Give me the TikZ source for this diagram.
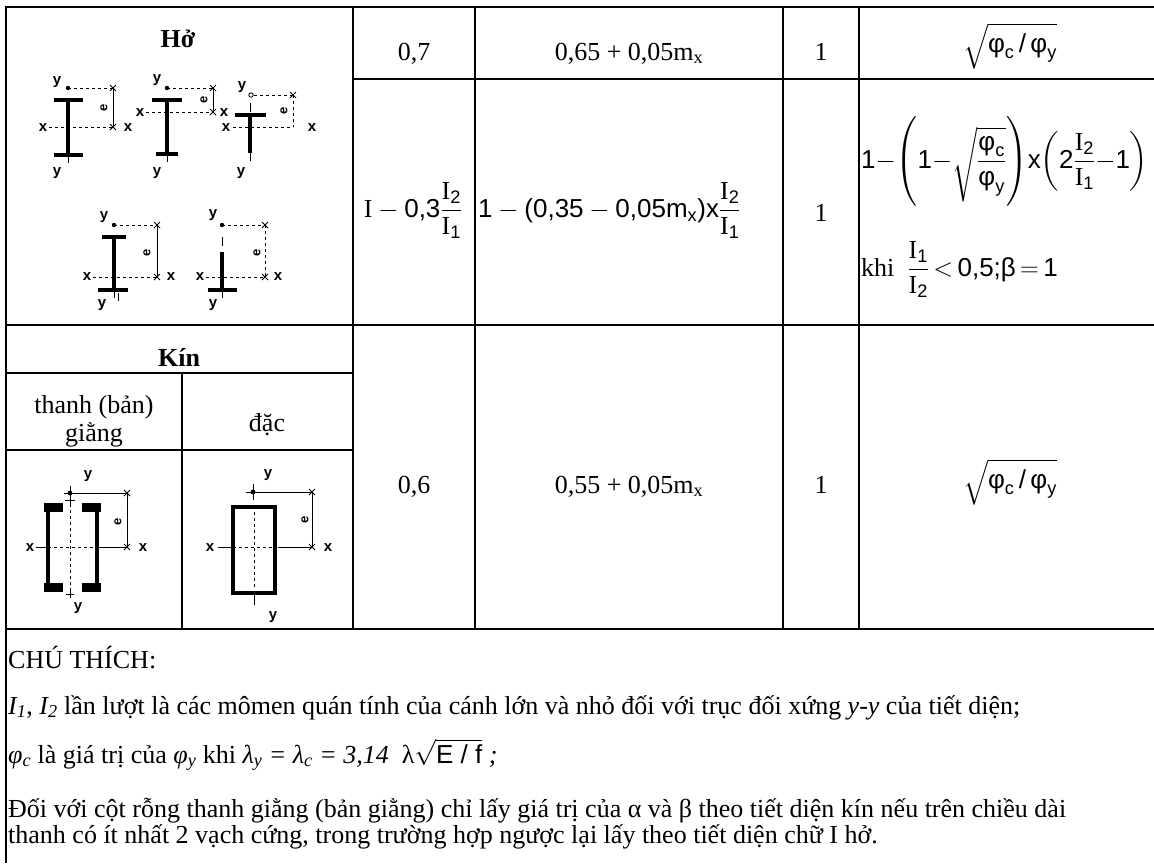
\RequirePackage{fix-cm}
\documentclass[tikz,border=0pt]{standalone}
\usepackage{amsmath}
\usepackage{fontspec}
\setmainfont{Liberation Serif}
\newfontfamily\arial{Liberation Sans}
\newcommand{\A}[1]{\text{\arial #1}}
\newcommand{\T}[1]{\text{\rmfamily\upshape #1}}
\tikzset{
  grid/.style={line width=2.2pt},
  txt/.style={font=\fontsize{26}{29}\selectfont, inner sep=0pt},
  hdr/.style={font=\fontsize{26}{29}\selectfont\bfseries, inner sep=0pt},
  fl/.style={line width=3.6pt},
  box/.style={line width=4.5pt},
  ax/.style={line width=0.9pt, dash pattern=on 3pt off 3pt},
  dim/.style={line width=1pt},
  lab/.style={font=\fontsize{15}{15}\selectfont\arial\bfseries, inner sep=0pt},
  elab/.style={font=\fontsize{13}{13}\selectfont\arial\bfseries, inner sep=0pt, rotate=90},
  xm/.pic={\draw[line width=0.9pt] (-3,-3)--(3,3) (-3,3)--(3,-3);}
}
\begin{document}
\begin{tikzpicture}[x=1pt,y=-1pt]
\useasboundingbox (0,0) rectangle (1154,863);
% ---------- table rules ----------
\draw[line width=2.6pt] (6,6)--(6,863);
\draw[grid] (6,7)--(1154,7);
\draw[grid] (353,79)--(1154,79);
\draw[grid] (6,325)--(1154,325);
\draw[grid] (6,373)--(353,373);
\draw[grid] (6,450)--(353,450);
\draw[grid] (6,629)--(1154,629);
\draw[grid] (353,7)--(353,629);
\draw[grid] (475,7)--(475,629);
\draw[grid] (783,7)--(783,629);
\draw[grid] (859,7)--(859,629);
\draw[grid] (182,373)--(182,629);
% ---------- headers ----------
\node[hdr, anchor=base] (ho) at (178,47) {Hở};
\node[hdr, anchor=base] (kin) at (179,366) {Kín};
\node[txt, anchor=base] (thanh) at (94,413) {thanh (bản)};
\node[txt, anchor=base] (giang) at (94,441) {giằng};
\node[txt, anchor=base] (dac) at (267,431) {đặc};
% ---------- row 1 ----------
\node[txt, anchor=base] (a1) at (414,60) {0,7};
\node[txt, anchor=base] (b1) at (629,60) {0,65 + 0,05m\textsubscript{x}};
\node[txt, anchor=base] (c1) at (821,60) {1};
\node[txt] (d1) at (1010,46) {$\sqrt{\A{φ}_{\A{c}}\,\A{/}\,\A{φ}_{\A{y}}}$};
% ---------- row 2 ----------
\node[txt, anchor=base] (a2) at (413,217) {$\T{I}-\A{0,3}\dfrac{\T{I}_{\A{2}}}{\T{I}_{\A{1}}}$};
\node[txt, anchor=base west] (b2) at (478,217) {$\A{1}-\A{(0,35}-\A{0,05m}_{\A{x}}\A{)x}\dfrac{\T{I}_{\A{2}}}{\T{I}_{\A{1}}}$};
\node[txt, anchor=base] (c2) at (821,221) {1};
\node[txt, anchor=base west] (d2) at (861,168) {\medmuskip=0mu $\A{1}-\left(\A{1}-\sqrt{\dfrac{\A{φ}_{\A{c}}}{\A{φ}_{\A{y}}}}\right)\!\A{x}\!\left(\A{2}\dfrac{\T{I}_{\A{2}}}{\T{I}_{\A{1}}}-\A{1}\right)$};
\node[txt, anchor=base west] (e2) at (861,276) {\thickmuskip=3mu khi\ \ $\dfrac{\T{I}_{\A{1}}}{\T{I}_{\A{2}}}<\A{0,5;β}=\A{1}$};
% ---------- row 3 ----------
\node[txt, anchor=base] (a3) at (414,493) {0,6};
\node[txt, anchor=base] (b3) at (629,493) {0,55 + 0,05m\textsubscript{x}};
\node[txt, anchor=base] (c3) at (821,493) {1};
\node[txt] (d3) at (1010,482) {$\sqrt{\A{φ}_{\A{c}}\,\A{/}\,\A{φ}_{\A{y}}}$};
% ---------- notes ----------
\node[txt, anchor=base west] (n1) at (8,668) {CHÚ THÍCH:};
\node[txt, anchor=base west] (n2) at (8,714) {\textit{I\textsubscript{1}}, \textit{I\textsubscript{2}} lần lượt là các mômen quán tính của cánh lớn và nhỏ đối với trục đối xứng \textit{y-y} của tiết diện;};
\node[txt, anchor=base west] (n3) at (8,763) {\textit{φ\textsubscript{c}} là giá trị của \textit{φ\textsubscript{y}} khi \textit{λ\textsubscript{y} = λ\textsubscript{c} = 3,14}\ \ λ$\sqrt{\A{E / f}}$ \textit{;}};
\node[txt, anchor=base west] (n4) at (8,817) {Đối với cột rỗng thanh giằng (bản giằng) chỉ lấy giá trị của α và β theo tiết diện kín nếu trên chiều dài};
\node[txt, anchor=base west] (n5) at (8,843) {thanh có ít nhất 2 vạch cứng, trong trường hợp ngược lại lấy theo tiết diện chữ I hở.};
% ---------- figure 1 : symmetric I ----------
\draw[fl] (54,100)--(83,100) (68,100)--(68,155) (54,155)--(83,155);
\draw[dim] (68,155)--(68,163);
\fill (68,88) circle (2.2);
\draw[ax] (68,88)--(113,88);
\draw[dim] (113,88)--(113,127);
\draw[ax] (49,127)--(113,127);
\pic at (113,88) {xm}; \pic at (113,127) {xm};
\node[lab] (f1y) at (57,82) {y};
\node[lab] (f1x) at (43,128) {x};
\node[lab] (f1x2) at (128,128) {x};
\node[lab] (f1yb) at (57,173) {y};
\node[elab] (f1e) at (104,108) {e};
% ---------- figure 2 : I with larger top flange ----------
\draw[fl] (152,100)--(182,100) (167,100)--(167,154) (156,154)--(178,154);
\draw[dim] (167,154)--(167,162);
\fill (167,88) circle (2.2);
\draw[ax] (167,88)--(213,88);
\draw[dim] (213,88)--(213,112);
\draw[ax] (146,112)--(213,112);
\pic at (213,88) {xm}; \pic at (213,112) {xm};
\node[lab] (f2y) at (157,80) {y};
\node[lab] (f2x) at (140,113) {x};
\node[lab] (f2x2) at (224,113) {x};
\node[lab] (f2yb) at (157,173) {y};
\node[elab] (f2e) at (204,100) {e};
% ---------- figure 3 : T ----------
\draw[fl] (235,115)--(266,115) (250,115)--(250,153);
\draw[dim] (250,103)--(250,112) (250,153)--(250,161);
\draw[line width=0.9pt] (251,95) circle (2.2);
\draw[ax] (254,95)--(293,95);
\draw[ax] (293,95)--(293,127);
\draw[ax] (233,127)--(293,127);
\pic at (293,95) {xm};
\node[lab] (f3y) at (242,87) {y};
\node[lab] (f3x) at (226,128) {x};
\node[lab] (f3x2) at (312,128) {x};
\node[lab] (f3yb) at (241,173) {y};
\node[elab] (f3e) at (284,111) {e};
% ---------- figure 4 : I with larger bottom flange ----------
\draw[fl] (102,237)--(126,237) (114,237)--(114,290) (98,290)--(128,290);
\draw[dim] (114,290)--(114,298) (118,293)--(118,301);
\fill (114,225) circle (2.2);
\draw[ax] (114,225)--(157,225);
\draw[dim] (157,225)--(157,277);
\draw[ax] (93,277)--(157,277);
\pic at (157,225) {xm}; \pic at (157,277) {xm};
\node[lab] (f4y) at (104,217) {y};
\node[lab] (f4x) at (87,277) {x};
\node[lab] (f4x2) at (171,277) {x};
\node[lab] (f4yb) at (102,305) {y};
\node[elab] (f4e) at (147,253) {e};
% ---------- figure 5 : inverted T ----------
\draw[fl] (222,252)--(222,290) (208,290)--(237,290);
\draw[dim] (222,237)--(222,246) (222,290)--(222,298);
\fill (222,225) circle (2.2);
\draw[ax] (222,225)--(265,225);
\draw[ax] (265,225)--(265,277);
\draw[ax] (206,277)--(265,277);
\pic at (265,225) {xm}; \pic at (265,277) {xm};
\node[lab] (f5y) at (213,215) {y};
\node[lab] (f5x) at (200,277) {x};
\node[lab] (f5x2) at (278,277) {x};
\node[lab] (f5yb) at (213,305) {y};
\node[elab] (f5e) at (257,253) {e};
% ---------- figure 6 : laced box ----------
\draw[box] (63,507)--(48,507)--(48,588)--(63,588);
\draw[box] (82,507)--(97,507)--(97,588)--(82,588);
\fill (44,503) rectangle (63,512); \fill (82,503) rectangle (101,512);
\fill (44,583) rectangle (63,592); \fill (82,583) rectangle (101,592);
\draw[dim] (70,486)--(70,507);
\draw[dim] (65,500)--(75,500);
\fill (70,493) circle (2.4);
\draw[dim] (64,493)--(76,493);
\draw[ax] (70,510)--(70,586);
\draw[dim] (66,594)--(74,594) (70,588)--(70,598);
\draw[dim] (70,493)--(127,493);
\draw[dim] (127,493)--(127,547);
\draw[dim] (36,547)--(48,547);
\draw[ax] (48,547)--(97,547);
\draw[dim] (97,547)--(127,547);
\pic at (127,493) {xm}; \pic at (127,547) {xm};
\node[lab] (f6y) at (88,476) {y};
\node[lab] (f6x) at (30,548) {x};
\node[lab] (f6x2) at (143,548) {x};
\node[lab] (f6yb) at (78,608) {y};
\node[elab] (f6e) at (118,522) {e};
% ---------- figure 7 : solid box ----------
\draw[box] (233,507) rectangle (275,593);
\fill (253,492) circle (2.4);
\draw[dim] (246,492)--(260,492) (253,484)--(253,500);
\draw[ax] (254,512)--(254,588);
\draw[dim] (254,593)--(254,605);
\draw[dim] (253,492)--(312,492);
\draw[dim] (312,492)--(312,547);
\draw[dim] (218,547)--(233,547);
\draw[ax] (233,547)--(275,547);
\draw[dim] (278,547)--(312,547);
\pic at (312,492) {xm}; \pic at (312,547) {xm};
\node[lab] (f7y) at (268,475) {y};
\node[lab] (f7x) at (210,548) {x};
\node[lab] (f7x2) at (328,548) {x};
\node[lab] (f7yb) at (273,617) {y};
\node[elab] (f7e) at (305,520) {e};
\end{tikzpicture}
\end{document}
